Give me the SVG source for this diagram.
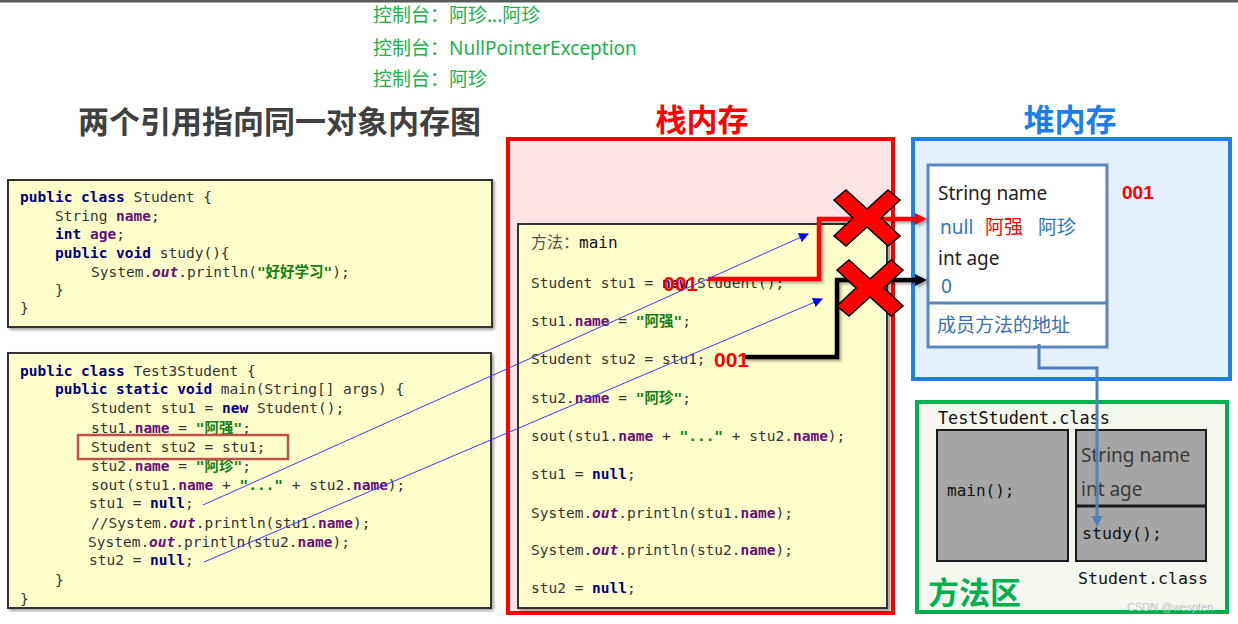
<svg xmlns="http://www.w3.org/2000/svg" width="1238" height="624" viewBox="0 0 1238 624">
<defs>
<style>
.code{font-family:"DejaVu Sans Mono","Noto Sans CJK SC",monospace;font-size:14.5px;fill:#333333;}
.kw{font-weight:bold;fill:#00007f;}
.fld{font-weight:bold;fill:#660e7a;}
.it{font-style:italic;font-weight:bold;fill:#660e7a;}
.str{font-weight:bold;fill:#108010;}
.green{font-family:"Noto Sans","Noto Sans CJK SC",sans-serif;font-size:19px;fill:#22b04b;}
.title{font-family:"Noto Sans CJK SC",sans-serif;font-weight:bold;font-size:31px;}
.sans{font-family:"Noto Sans","Noto Sans CJK SC",sans-serif;font-size:19px;}
.num{font-family:"Liberation Sans",Arial,sans-serif;font-weight:bold;fill:#ff0000;}
.mono{font-family:"DejaVu Sans Mono",monospace;fill:#111111;}
.xm{fill:#ff0000;stroke:#000000;stroke-width:1.5;stroke-linejoin:miter;}
.gbox{fill:#a5a5a5;stroke:#1a1a1a;stroke-width:2;}
</style>
<filter id="sh" x="-10%" y="-10%" width="120%" height="120%">
<feDropShadow dx="2" dy="2" stdDeviation="1.5" flood-color="#000" flood-opacity="0.35"/>
</filter>
<path id="xmark" d="M-33,-18 L-21,-28 L0,-9 L21,-28 L33,-18 L14,0 L33,18 L21,28 L0,9 L-21,28 L-33,18 L-14,0 Z"/>
<marker id="aRed" viewBox="0 0 10 10" refX="1" refY="5" markerWidth="12" markerHeight="12" markerUnits="userSpaceOnUse" orient="auto"><path d="M0,0 L10,5 L0,10 Z" fill="#ff0000"/></marker>
<marker id="aBlack" viewBox="0 0 10 10" refX="1" refY="5" markerWidth="12" markerHeight="12" markerUnits="userSpaceOnUse" orient="auto"><path d="M0,0 L10,5 L0,10 Z" fill="#000000"/></marker>
<marker id="aBlue" viewBox="0 0 10 10" refX="9" refY="5" markerWidth="10" markerHeight="10" markerUnits="userSpaceOnUse" orient="auto"><path d="M0,0 L10,5 L0,10 Z" fill="#0000ff"/></marker>
<marker id="aSteel" viewBox="0 0 10 10" refX="1" refY="5" markerWidth="11" markerHeight="11" markerUnits="userSpaceOnUse" orient="auto"><path d="M0,0 L10,5 L0,10 Z" fill="#4f81bd"/></marker>
</defs>

<rect x="0" y="0" width="1238" height="624" fill="#ffffff"/>
<rect x="0" y="0" width="1238" height="2.5" fill="#5a5a5a"/>

<g id="console-output">
<text class="green" x="373" y="21.5">控制台：阿珍...阿珍</text>
<text class="green" x="373" y="55">控制台：NullPointerException</text>
<text class="green" x="373" y="86">控制台：阿珍</text>
</g>

<g id="title">
<text class="title" x="78" y="133" fill="#404040">两个引用指向同一对象内存图</text>
</g>

<g id="student-code">
<rect x="8" y="180" width="484" height="147" fill="#ffffcc" stroke="#333333" stroke-width="2" filter="url(#sh)"/>
<text class="code" x="20" y="202"><tspan class="kw">public class</tspan> Student {</text>
<text class="code" x="55" y="221">String <tspan class="fld">name</tspan>;</text>
<text class="code" x="55" y="239"><tspan class="kw">int</tspan> <tspan class="fld">age</tspan>;</text>
<text class="code" x="55" y="258"><tspan class="kw">public void</tspan> study(){</text>
<text class="code" x="91" y="277">System.<tspan class="it">out</tspan>.println(<tspan class="str">"好好学习"</tspan>);</text>
<text class="code" x="55" y="295">}</text>
<text class="code" x="20" y="313">}</text>
</g>

<g id="test-code">
<rect x="8" y="353" width="483" height="255" fill="#ffffcc" stroke="#333333" stroke-width="2" filter="url(#sh)"/>
<text class="code" x="20" y="376"><tspan class="kw">public class</tspan> Test3Student {</text>
<text class="code" x="55" y="394"><tspan class="kw">public static void</tspan> main(String[] args) {</text>
<text class="code" x="91" y="413">Student stu1 = <tspan class="kw">new</tspan> Student();</text>
<text class="code" x="91" y="433">stu1.<tspan class="fld">name</tspan> = <tspan class="str">"阿强"</tspan>;</text>
<text class="code" x="91" y="452">Student stu2 = stu1;</text>
<text class="code" x="91" y="471">stu2.<tspan class="fld">name</tspan> = <tspan class="str">"阿珍"</tspan>;</text>
<text class="code" x="91" y="490">sout(stu1.<tspan class="fld">name</tspan> + <tspan class="str">"..."</tspan> + stu2.<tspan class="fld">name</tspan>);</text>
<text class="code" x="89" y="508">stu1 = <tspan class="kw">null</tspan>;</text>
<text class="code" x="91" y="528">//System.<tspan class="it">out</tspan>.println(stu1.<tspan class="fld">name</tspan>);</text>
<text class="code" x="88" y="547">System.<tspan class="it">out</tspan>.println(stu2.<tspan class="fld">name</tspan>);</text>
<text class="code" x="89" y="565">stu2 = <tspan class="kw">null</tspan>;</text>
<text class="code" x="55" y="585">}</text>
<text class="code" x="20" y="604">}</text>
<rect x="78" y="435" width="210" height="24" fill="none" stroke="#c0504d" stroke-width="2.5"/>
</g>

<g id="stack">
<text class="title" x="702" y="131" fill="#ff0000" text-anchor="middle">栈内存</text>
<rect x="508" y="139" width="385" height="474" fill="#ffe4e6" stroke="#ff0000" stroke-width="4"/>
</g>

<g id="main-frame">
<rect x="518" y="224" width="369" height="384" fill="#ffffcc" stroke="#333333" stroke-width="2" filter="url(#sh)"/>
<text x="531" y="248" font-size="16"><tspan font-family="Noto Sans CJK SC,sans-serif" fill="#555555">方法：</tspan><tspan class="mono">main</tspan></text>
<text class="code" x="531" y="288">Student stu1 = <tspan class="kw">new</tspan> Student();</text>
<text class="code" x="531" y="326">stu1.<tspan class="fld">name</tspan> = <tspan class="str">"阿强"</tspan>;</text>
<text class="code" x="531" y="364">Student stu2 = stu1;</text>
<text class="code" x="531" y="403">stu2.<tspan class="fld">name</tspan> = <tspan class="str">"阿珍"</tspan>;</text>
<text class="code" x="531" y="441">sout(stu1.<tspan class="fld">name</tspan> + <tspan class="str">"..."</tspan> + stu2.<tspan class="fld">name</tspan>);</text>
<text class="code" x="531" y="479">stu1 = <tspan class="kw">null</tspan>;</text>
<text class="code" x="531" y="518">System.<tspan class="it">out</tspan>.println(stu1.<tspan class="fld">name</tspan>);</text>
<text class="code" x="531" y="555">System.<tspan class="it">out</tspan>.println(stu2.<tspan class="fld">name</tspan>);</text>
<text class="code" x="531" y="593">stu2 = <tspan class="kw">null</tspan>;</text>
<text class="num" x="663" y="291" font-size="21">001</text>
<text class="num" x="714" y="367" font-size="21">001</text>
</g>

<g id="heap">
<text class="title" x="1070" y="131" fill="#1a7fe8" text-anchor="middle">堆内存</text>
<rect x="913" y="139" width="317" height="240" fill="#e4f1fd" stroke="#1e80ec" stroke-width="4"/>
</g>

<g id="student-object">
<rect x="928" y="165" width="179" height="182" fill="#ffffff" stroke="#5a86bf" stroke-width="3"/>
<line x1="928" y1="303" x2="1107" y2="303" stroke="#5a86bf" stroke-width="3"/>
<text class="sans" x="938" y="200" fill="#222222">String name</text>
<text class="sans" x="940" y="234"><tspan fill="#2e75b6">null</tspan><tspan x="985" fill="#ff0000">阿强</tspan><tspan x="1038" fill="#2e75b6">阿珍</tspan></text>
<text class="sans" x="938" y="265" fill="#222222">int age</text>
<text class="sans" x="941" y="293" fill="#2e75b6">0</text>
<text class="sans" x="937" y="332" font-size="18.6" fill="#3a6fb5">成员方法的地址</text>
<text class="num" x="1122" y="199" font-size="19">001</text>
</g>

<g id="method-area">
<rect x="917" y="402" width="310" height="210" fill="#f4f7ee" stroke="#00b050" stroke-width="4"/>
<text class="mono" x="938" y="424" font-size="16.8">TestStudent.class</text>
<text class="title" x="928" y="604" font-size="30" fill="#00b050">方法区</text>
<text class="mono" x="1078" y="584" font-size="16.6">Student.class</text>
</g>

<g id="test-class">
<rect class="gbox" x="937" y="430" width="131" height="131"/>
<text class="mono" x="947" y="496" font-size="16">main();</text>
</g>

<g id="student-class">
<rect class="gbox" x="1076" y="430" width="130" height="131"/>
<line x1="1076" y1="506" x2="1206" y2="506" stroke="#1a1a1a" stroke-width="3"/>
<text class="sans" x="1081" y="462" fill="#3a3a3a">String name</text>
<text class="sans" x="1081" y="496" fill="#3a3a3a">int age</text>
<text class="mono" x="1082" y="539" font-size="16.6">study();</text>
</g>

<g id="connectors">
<path d="M708 279 H819 V219 H916" fill="none" stroke="#ff0000" stroke-width="4.5" marker-end="url(#aRed)" filter="url(#sh)"/>
<path d="M745 357 H837 V280 H916" fill="none" stroke="#000000" stroke-width="4.5" marker-end="url(#aBlack)" filter="url(#sh)"/>
<path d="M1039 344 V368 H1097 V517" fill="none" stroke="#4f81bd" stroke-width="3" marker-end="url(#aSteel)"/>
<line x1="203" y1="505" x2="808" y2="234" stroke="#3a3aff" stroke-width="1" marker-end="url(#aBlue)"/>
<line x1="204" y1="562" x2="822" y2="299" stroke="#3a3aff" stroke-width="1" marker-end="url(#aBlue)"/>
</g>

<g id="cross-marks">
<use href="#xmark" class="xm" x="867" y="218"/>
<use href="#xmark" class="xm" x="870" y="288"/>
</g>

<text x="1127" y="611" font-family="Liberation Sans,Arial,sans-serif" font-size="11" fill="#c4c4c4">CSDN @wespten</text>
</svg>
